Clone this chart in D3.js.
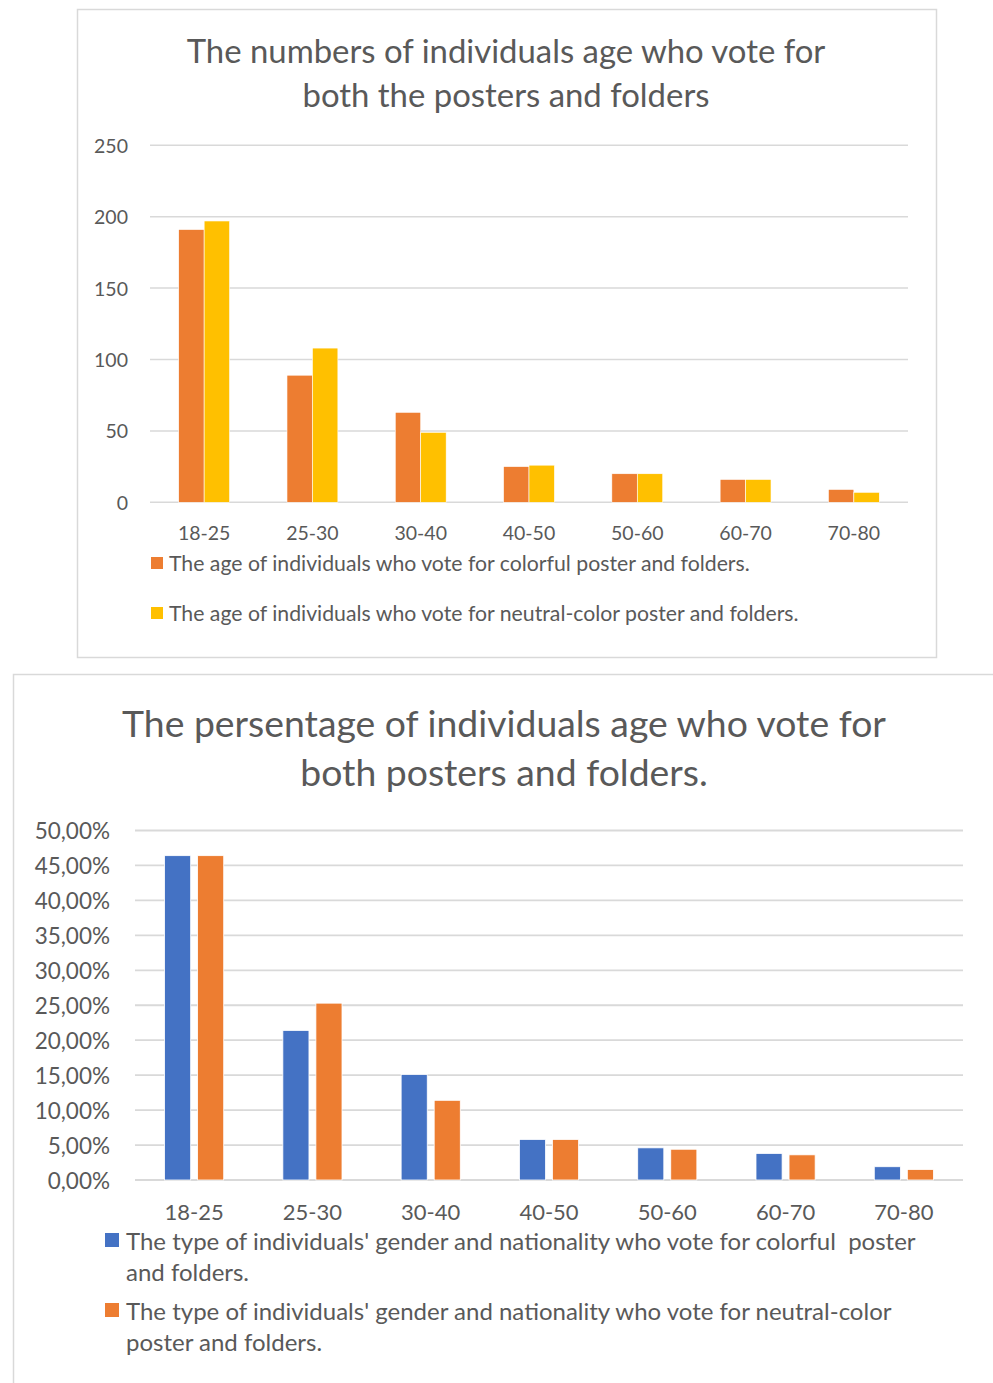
<!DOCTYPE html>
<html>
<head>
<meta charset="utf-8">
<script src="https://cdn.jsdelivr.net/npm/d3@7"></script>
<style>
  html, body { margin: 0; padding: 0; background: #ffffff; }
  svg { display: block; font-family: Lato, "Open Sans", sans-serif; }
  text { fill: #595959; white-space: pre; }
</style>
</head>
<body>
<svg id="chart" width="993" height="1383"></svg>
<script>
// Age groups shared by both charts
const categories = ["18-25", "25-30", "30-40", "40-50", "50-60", "60-70", "70-80"];

// Chart 1: number of voters per age group
const countColorful = [191, 89, 63, 25, 20, 16, 9];
const countNeutral  = [197, 108, 49, 26, 20, 16, 7];
const countTicks = [0, 50, 100, 150, 200, 250];
const countTitle = ["The numbers of individuals age who vote for", "both the posters and folders"];
const countLegend = [
  "The age of individuals who vote for colorful poster and folders.",
  "The age of individuals who vote for neutral-color poster and folders."
];

// Chart 2: share of voters per age group (percent)
const pctColorful = [46.4, 21.4, 15.1, 5.8, 4.6, 3.8, 1.9];
const pctNeutral  = [46.4, 25.3, 11.4, 5.8, 4.4, 3.6, 1.5];
const pctTicks = [0, 5, 10, 15, 20, 25, 30, 35, 40, 45, 50];
const pctTitle = ["The persentage of individuals age who vote for", "both posters and folders."];
const pctLegend = [
  "The type of individuals' gender and nationality who vote for colorful  poster and folders.",
  "The type of individuals' gender and nationality who vote for neutral-color poster and folders."
];

const svg = d3.select("#chart");
const GRID = "#d9d9d9";
const fmtPct = v => v.toFixed(2).replace(".", ",") + "%";

// scale a text so it spans a given width
function fitWidth(sel, width) {
  const w = sel.node().getComputedTextLength();
  const fs = parseFloat(sel.attr("font-size"));
  sel.attr("font-size", fs * width / w);
  return fs * width / w;
}

// wrap a legend label into tspans no wider than maxW
function wrapText(textSel, str, x, lineH, maxW) {
  const words = str.split(" ");
  let line = [];
  let tspan = textSel.append("tspan").attr("x", x).attr("dy", 0);
  for (let i = 0; i < words.length; i++) {
    line.push(words[i]);
    tspan.text(line.join(" "));
    if (tspan.node().getComputedTextLength() > maxW && line.length > 1) {
      line.pop();
      tspan.text(line.join(" "));
      line = [words[i]];
      tspan = textSel.append("tspan").attr("x", x).attr("dy", lineH).text(words[i]);
    }
  }
}

/* ---------------- Chart 1: counts ---------------- */
(function () {
  const g = svg.append("g");
  g.append("rect").attr("x", 77.5).attr("y", 9.5).attr("width", 859).attr("height", 648)
    .attr("fill", "#fff").attr("stroke", GRID).attr("stroke-width", 1.5);

  const t1 = g.append("text").attr("x", 506).attr("y", 50)
    .attr("text-anchor", "middle").attr("dominant-baseline", "central")
    .attr("font-size", 30).text(countTitle[0]);
  const tfs = fitWidth(t1, 639);
  g.append("text").attr("x", 506).attr("y", 94)
    .attr("text-anchor", "middle").attr("dominant-baseline", "central")
    .attr("font-size", tfs).text(countTitle[1]);

  const y = d3.scaleLinear().domain([0, 250]).range([502.3, 145.3]);
  const x0 = d3.scaleBand().domain(categories).range([150, 908]).paddingInner(0.53).paddingOuter(0.265);
  const x1 = d3.scaleBand().domain(["colorful", "neutral"]).range([0, x0.bandwidth()]).padding(0);
  const colors = { colorful: "#ED7D31", neutral: "#FFC000" };

  g.append("g").selectAll("line").data(countTicks).join("line")
    .attr("x1", 150).attr("x2", 908).attr("y1", d => y(d)).attr("y2", d => y(d))
    .attr("stroke", GRID).attr("stroke-width", 1.5);

  g.append("g").selectAll("text").data(countTicks).join("text")
    .attr("x", 128).attr("y", d => y(d)).attr("text-anchor", "end")
    .attr("dominant-baseline", "central").attr("font-size", 19.5).text(d => d);

  const rows = categories.map((c, i) => ({ c, colorful: countColorful[i], neutral: countNeutral[i] }));
  g.append("g").selectAll("g").data(rows).join("g")
    .attr("transform", d => `translate(${x0(d.c)},0)`)
    .selectAll("rect").data(d => ["colorful", "neutral"].map(k => ({ k, v: d[k] }))).join("rect")
    .attr("x", d => x1(d.k)).attr("width", x1.bandwidth())
    .attr("y", d => y(d.v)).attr("height", d => y(0) - y(d.v))
    .attr("fill", d => colors[d.k]).attr("stroke", "#fff").attr("stroke-width", 0.6);

  g.append("g").selectAll("text").data(categories).join("text")
    .attr("x", d => x0(d) + x0.bandwidth() / 2).attr("y", 532)
    .attr("text-anchor", "middle").attr("dominant-baseline", "central")
    .attr("font-size", 19.5).text(d => d);

  const legY = [563, 613];
  let lfs = 20;
  ["colorful", "neutral"].forEach((k, i) => {
    g.append("rect").attr("x", 151).attr("y", legY[i] - 6).attr("width", 12).attr("height", 12).attr("fill", colors[k]);
    const t = g.append("text").attr("x", 169).attr("y", legY[i]).attr("dominant-baseline", "central")
      .attr("font-size", lfs).text(countLegend[i]);
    if (i === 0) lfs = fitWidth(t, 581); else t.attr("font-size", lfs);
  });
})();

/* ---------------- Chart 2: percentages ---------------- */
(function () {
  const g = svg.append("g");
  g.append("rect").attr("x", 13.5).attr("y", 674.5).attr("width", 1000).attr("height", 760)
    .attr("fill", "#fff").attr("stroke", GRID).attr("stroke-width", 1.5);

  const t1 = g.append("text").attr("x", 504).attr("y", 722)
    .attr("text-anchor", "middle").attr("dominant-baseline", "central")
    .attr("font-size", 34).text(pctTitle[0]);
  const tfs = fitWidth(t1, 764);
  g.append("text").attr("x", 504).attr("y", 771)
    .attr("text-anchor", "middle").attr("dominant-baseline", "central")
    .attr("font-size", tfs).text(pctTitle[1]);

  const y = d3.scaleLinear().domain([0, 50]).range([1180, 830.5]);
  const x0 = d3.scaleBand().domain(categories).range([135, 963]).paddingInner(0.5).paddingOuter(0.25);
  const x1 = d3.scaleBand().domain(["colorful", "neutral"]).range([0, x0.bandwidth()]).paddingInner(0.21).paddingOuter(0);
  const colors = { colorful: "#4472C4", neutral: "#ED7D31" };

  g.append("g").selectAll("line").data(pctTicks).join("line")
    .attr("x1", 135).attr("x2", 963).attr("y1", d => y(d)).attr("y2", d => y(d))
    .attr("stroke", GRID).attr("stroke-width", 1.8);

  g.append("g").selectAll("text").data(pctTicks).join("text")
    .attr("x", 110).attr("y", d => y(d)).attr("text-anchor", "end")
    .attr("dominant-baseline", "central").attr("font-size", 22.5).text(d => fmtPct(d));

  const rows = categories.map((c, i) => ({ c, colorful: pctColorful[i], neutral: pctNeutral[i] }));
  g.append("g").selectAll("g").data(rows).join("g")
    .attr("transform", d => `translate(${x0(d.c)},0)`)
    .selectAll("rect").data(d => ["colorful", "neutral"].map(k => ({ k, v: d[k] }))).join("rect")
    .attr("x", d => x1(d.k)).attr("width", x1.bandwidth())
    .attr("y", d => y(d.v)).attr("height", d => y(0) - y(d.v))
    .attr("fill", d => colors[d.k]).attr("stroke", "#fff").attr("stroke-width", 0.8);

  g.append("g").selectAll("text").data(categories).join("text")
    .attr("x", d => x0(d) + x0.bandwidth() / 2).attr("y", 1211)
    .attr("text-anchor", "middle").attr("dominant-baseline", "central")
    .attr("font-size", 22).text(d => d);

  const legY = [1240, 1310];
  ["colorful", "neutral"].forEach((k, i) => {
    g.append("rect").attr("x", 105).attr("y", legY[i] - 7).attr("width", 14).attr("height", 14).attr("fill", colors[k]);
    const t = g.append("text").attr("x", 126).attr("y", legY[i]).attr("dominant-baseline", "central")
      .attr("font-size", 24);
    wrapText(t, pctLegend[i], 126, 31, 815);
  });
})();
</script>
</body>
</html>
